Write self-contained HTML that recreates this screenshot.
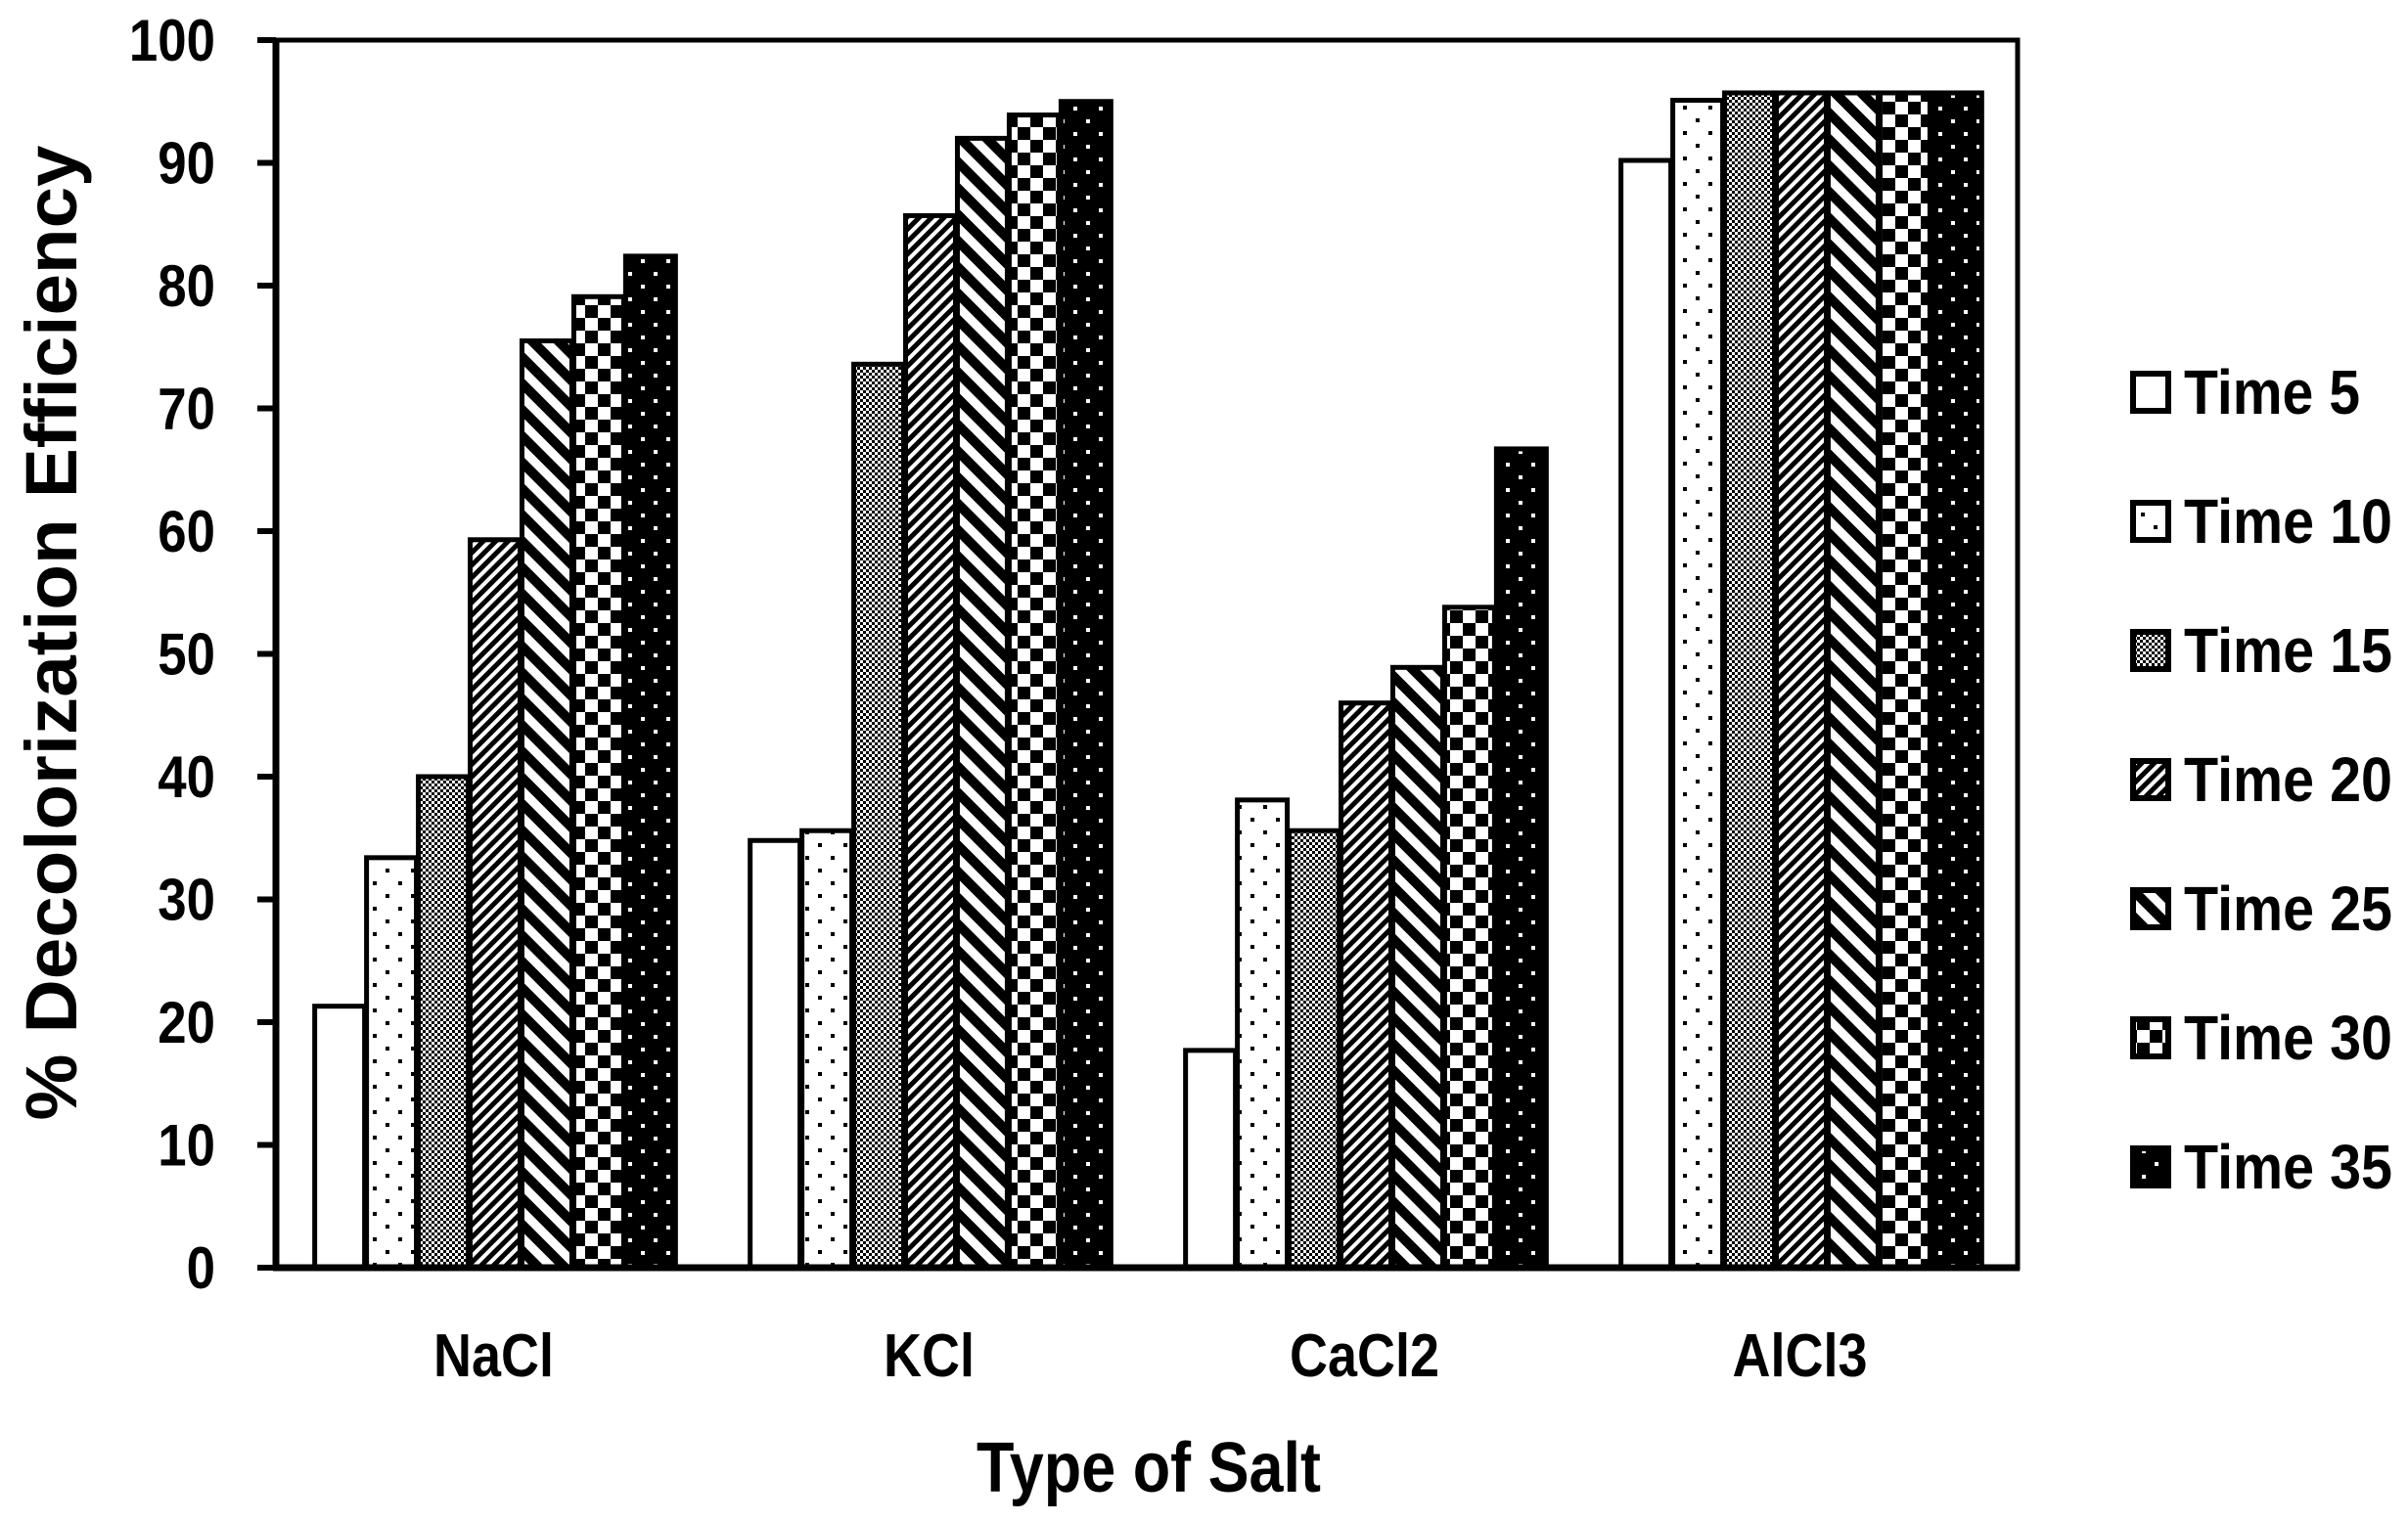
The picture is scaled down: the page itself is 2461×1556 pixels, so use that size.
<!DOCTYPE html>
<html><head><meta charset="utf-8"><style>
html,body{margin:0;padding:0;background:#fff;}
svg{display:block;}
text{font-family:"Liberation Sans Narrow","Liberation Sans",sans-serif;font-weight:bold;fill:#000;}
</style></head><body>
<svg id="chart" width="2461" height="1556" viewBox="0 0 2461 1556" xmlns="http://www.w3.org/2000/svg">
<defs>
<pattern id="p0" width="10" height="10" patternUnits="userSpaceOnUse"><rect width="10" height="10" fill="#fff"/></pattern>
<pattern id="p1" width="26" height="26" patternUnits="userSpaceOnUse"><rect width="26" height="26" fill="#fff"/><rect x="4" y="4" width="4" height="4" fill="#000"/><rect x="17" y="17" width="4" height="4" fill="#000"/></pattern>
<pattern id="p2" width="6" height="6" patternUnits="userSpaceOnUse"><rect width="6" height="6" fill="#000"/><rect width="3" height="3" fill="#fff"/><rect x="3" y="3" width="3" height="3" fill="#fff"/></pattern>
<pattern id="p3" width="9" height="9" patternUnits="userSpaceOnUse" patternTransform="rotate(45)"><rect width="9" height="9" fill="#fff"/><rect width="5" height="9" fill="#000"/></pattern>
<pattern id="p4" width="19" height="19" patternUnits="userSpaceOnUse" patternTransform="rotate(-45)"><rect width="19" height="19" fill="#fff"/><rect width="10" height="19" fill="#000"/></pattern>
<pattern id="p5" width="26" height="26" patternUnits="userSpaceOnUse"><rect width="26" height="26" fill="#fff"/><rect width="13" height="13" fill="#000"/><rect x="13" y="13" width="13" height="13" fill="#000"/></pattern>
<pattern id="p6" width="26" height="26" patternUnits="userSpaceOnUse"><rect width="26" height="26" fill="#000"/><rect x="5" y="5" width="4" height="4" fill="#fff"/><rect x="18" y="18" width="4" height="4" fill="#fff"/></pattern>
</defs>
<g id="bars"></g>
<g id="axes"></g>
<g id="legend"></g>
<text x="0" y="0" transform="translate(78,647) rotate(-90)" text-anchor="middle" font-size="74" textLength="997" lengthAdjust="spacingAndGlyphs">% Decolorization Efficiency</text>
<text x="1174" y="1525" text-anchor="middle" font-size="72" textLength="352" lengthAdjust="spacingAndGlyphs">Type of Salt</text>
</svg>
<script>
const categories = ["NaCl","KCl","CaCl2","AlCl3"];
const seriesNames = ["Time 5","Time 10","Time 15","Time 20","Time 25","Time 30","Time 35"];
const time5  = [21.3, 34.8, 17.7, 90.2];
const time10 = [33.4, 35.6, 38.1, 95.1];
const time15 = [40.0, 73.6, 35.6, 95.7];
const time20 = [59.3, 85.7, 46.0, 95.7];
const time25 = [75.5, 92.0, 48.9, 95.7];
const time30 = [79.1, 93.9, 53.8, 95.7];
const time35 = [82.4, 95.0, 66.7, 95.7];
const yTicks = [0,10,20,30,40,50,60,70,80,90,100];

const series = [time5,time10,time15,time20,time25,time30,time35];
const NS="http://www.w3.org/2000/svg";
const X0=282, X1=2062, Y0=1296, Y1=41;
const y = v => Y0 - (v/100)*(Y0-Y1);
const catW = (X1-X0)/categories.length;
const groupW = catW*0.833, barW = groupW/seriesNames.length;
const xBar = (c,s) => X0 + c*catW + (catW-groupW)/2 + s*barW;
function mk(tag, attrs, parent){const e=document.createElementNS(NS,tag);for(const k in attrs)e.setAttribute(k,attrs[k]);parent.appendChild(e);return e;}
function squeeze(t,f){const w=t.getComputedTextLength();t.setAttribute('textLength',(w*f).toFixed(1));t.setAttribute('lengthAdjust','spacingAndGlyphs');}
const gb=document.getElementById('bars'), ga=document.getElementById('axes'), gl=document.getElementById('legend');
series.forEach((vals,s)=>{vals.forEach((v,c)=>{
  const r=mk('rect',{x:xBar(c,s)+2.5,y:y(v),width:barW-2,height:Y0-y(v),fill:'url(#p'+s+')',stroke:'#000','stroke-width':5},gb);
  
  
});});
const fr=mk('rect',{x:X0,y:Y1,width:X1-X0,height:Y0-Y1,fill:'none',stroke:'#000','stroke-width':5},ga);


const xa=mk('line',{x1:X0-3,y1:Y0,x2:X1+2,y2:Y0,stroke:'#000','stroke-width':7},ga);


const ya=mk('line',{x1:X0,y1:Y1,x2:X0,y2:Y0,stroke:'#000','stroke-width':7},ga);


yTicks.forEach(t=>{
  const tk=mk('line',{x1:X0-19,y1:y(t),x2:X0,y2:y(t),stroke:'#000','stroke-width':6},ga);
  
  
  const tl=mk('text',{x:220,y:y(t)+21,'text-anchor':'end','font-size':60},ga);
  tl.textContent=t;
  
  
  squeeze(tl,0.88);
});
categories.forEach((c,i)=>{
  const t=mk('text',{x:X0+catW*(i+0.5),y:1407,'text-anchor':'middle','font-size':62},ga);
  t.textContent=c;
  
  
  squeeze(t,0.87);
});
seriesNames.forEach((n,i)=>{
  const cy=401+132*i;
  const g=mk('g',{},gl);
  
  
  mk('rect',{x:2180,y:cy-19,width:36,height:38,fill:'url(#p'+i+')',stroke:'#000','stroke-width':6},g);
  const t=mk('text',{x:2232,y:cy+22,'font-size':64,textLength:(n.length>6?213:180),lengthAdjust:'spacingAndGlyphs'},g);
  t.textContent=n;
});
</script>
</body></html>
